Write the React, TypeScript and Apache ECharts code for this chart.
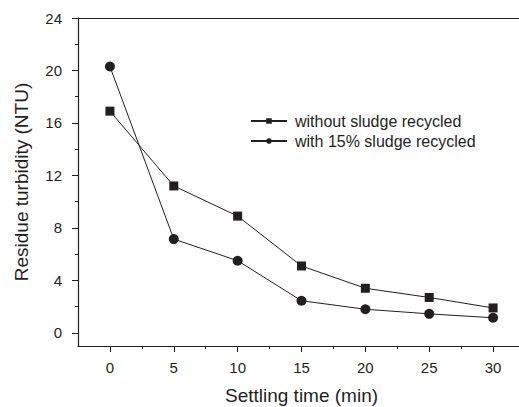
import React, { useEffect, useRef } from "react";
import * as echarts from "echarts";

const times = [0, 5, 10, 15, 20, 25, 30];
const withoutSludge = [16.9, 11.2, 8.9, 5.1, 3.4, 2.7, 1.9];
const withSludge = [20.3, 7.15, 5.5, 2.45, 1.8, 1.45, 1.15];
const xMajor = [0, 5, 10, 15, 20, 25, 30];
const xMinor = [2.5, 7.5, 12.5, 17.5, 22.5, 27.5];
const yMajor = [0, 4, 8, 12, 16, 20, 24];
const yMinor = [2, 6, 10, 14, 18, 22];
const seriesNames = ["without sludge recycled", "with 15% sludge recycled"];

const INK = "#231f20";
const FONT = "Liberation Sans, Arial, sans-serif";

export default function App() {
  const ref = useRef<HTMLDivElement>(null);
  useEffect(() => {
    if (!ref.current) return;
    const chart = echarts.init(ref.current, undefined, { renderer: "svg" });
    const gridRect = {
      left: 78,
      top: 18,
      right: 6,
      bottom: 61,
      show: false,
      containLabel: false,
      outerBoundsMode: "none",
    };
    const X_MIN = -2.5;
    const X_MAX = 32.5;
    const Y_MIN = -1;
    const Y_MAX = 24;
    chart.setOption({
      animation: false,
      backgroundColor: "#fff",
      textStyle: { fontFamily: FONT, color: INK },
      grid: [gridRect, { ...gridRect }],
      legend: {
        orient: "vertical",
        left: 250,
        top: 111,
        padding: 0,
        itemGap: 0,
        itemWidth: 36,
        itemHeight: 7,
        textStyle: { fontSize: 16, color: INK, fontFamily: FONT, lineHeight: 20, padding: [0, 0, 0, 3] },
        data: seriesNames,
      },
      xAxis: [
        {
          type: "value",
          gridIndex: 0,
          min: X_MIN,
          max: X_MAX,
          position: "bottom",
          splitLine: { show: false },
          name: "Settling time (min)",
          nameLocation: "middle",
          nameGap: 40,
          nameTextStyle: { fontSize: 19, color: INK, fontFamily: FONT },
          axisLine: { show: true, onZero: false, lineStyle: { color: INK, width: 1.2 } },
          axisTick: { show: true, length: 6, customValues: xMajor, lineStyle: { color: INK, width: 1 } },
          axisLabel: { show: true, customValues: xMajor, margin: 14, fontSize: 15, color: INK, fontFamily: FONT },
        },
        {
          type: "value",
          gridIndex: 1,
          min: X_MIN,
          max: X_MAX,
          position: "bottom",
          splitLine: { show: false },
          axisLine: { show: false, onZero: false },
          axisTick: { show: true, length: 3, customValues: xMinor, lineStyle: { color: INK, width: 1 } },
          axisLabel: { show: false },
        },
        {
          type: "value",
          gridIndex: 1,
          min: X_MIN,
          max: X_MAX,
          position: "top",
          splitLine: { show: false },
          axisLine: { show: true, onZero: false, lineStyle: { color: INK, width: 1.2 } },
          axisTick: { show: false },
          axisLabel: { show: false },
        },
      ],
      yAxis: [
        {
          type: "value",
          gridIndex: 0,
          min: Y_MIN,
          max: Y_MAX,
          position: "left",
          splitLine: { show: false },
          name: "Residue turbidity (NTU)",
          nameLocation: "middle",
          nameGap: 47,
          nameTextStyle: { fontSize: 19, color: INK, fontFamily: FONT },
          axisLine: { show: true, onZero: false, lineStyle: { color: INK, width: 1.2 } },
          axisTick: { show: true, length: 6, customValues: yMajor, lineStyle: { color: INK, width: 1 } },
          axisLabel: { show: true, customValues: yMajor, margin: 16, fontSize: 15, color: INK, fontFamily: FONT },
        },
        {
          type: "value",
          gridIndex: 1,
          min: Y_MIN,
          max: Y_MAX,
          position: "left",
          splitLine: { show: false },
          axisLine: { show: false, onZero: false },
          axisTick: { show: true, length: 3, customValues: yMinor, lineStyle: { color: INK, width: 1 } },
          axisLabel: { show: false },
        },
      ],
      series: [
        {
          name: seriesNames[0],
          type: "line",
          xAxisIndex: 0,
          yAxisIndex: 0,
          data: times.map((t, i) => [t, withoutSludge[i]]),
          symbol: "rect",
          symbolSize: 9,
          itemStyle: { color: INK },
          lineStyle: { color: INK, width: 1 },
        },
        {
          name: seriesNames[1],
          type: "line",
          xAxisIndex: 0,
          yAxisIndex: 0,
          data: times.map((t, i) => [t, withSludge[i]]),
          symbol: "circle",
          symbolSize: 10,
          itemStyle: { color: INK },
          lineStyle: { color: INK, width: 1 },
        },
      ],
    });
    return () => chart.dispose();
  }, []);
  return (
    <div
      style={{
        position: "fixed",
        left: 0,
        top: 0,
        width: 519,
        height: 407,
        overflow: "hidden",
        background: "#fff",
      }}
    >
      <div ref={ref} style={{ width: 531, height: 407 }} />
    </div>
  );
}
